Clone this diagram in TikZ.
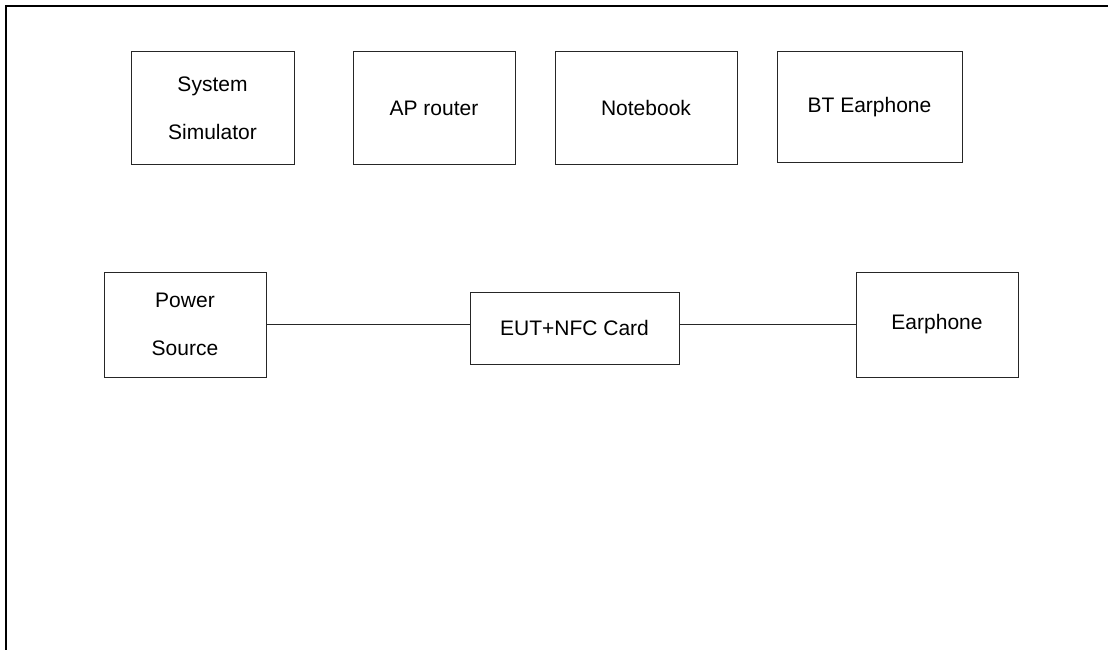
\documentclass[tikz,border=0pt]{standalone}
\usepackage{fontspec}
\setmainfont{Liberation Sans}
\begin{document}
\begin{tikzpicture}[x=1pt,y=-1pt,
  box/.style={draw=black!85, line width=1pt, rectangle, inner sep=0pt, align=center,
    font=\fontsize{21}{48}\selectfont},
  wire/.style={draw=black!85, line width=1.2pt}]
\useasboundingbox (0,0) rectangle (1108,650);
\fill[white] (0,0) rectangle (1108,650);
\draw[line width=2.2pt, black] (6,652) -- (6,6) -- (1110,6);
\node[box, minimum width=163pt, minimum height=112pt] (ss) at (212.5,108) {System\\Simulator};
\node[box, minimum width=162pt, minimum height=112pt] (ap) at (434,108) {AP router};
\node[box, minimum width=182pt, minimum height=112pt] (nb) at (646,108) {Notebook};
\node[box, minimum width=185pt, minimum height=110pt] (bt) at (869.5,107) {BT Earphone};
\node[box, minimum width=162pt, minimum height=105pt] (ps) at (185,324.5) {Power\\Source};
\node[box, minimum width=209pt, minimum height=72pt] (eut) at (574.5,328) {EUT+NFC Card};
\node[box, minimum width=162pt, minimum height=105pt] (ep) at (937,324.5) {Earphone};
\draw[wire] (ps.east) -- (ps.east -| eut.west);
\draw[wire] (eut.east |- ep.west) -- (ep.west);
\end{tikzpicture}
\end{document}
